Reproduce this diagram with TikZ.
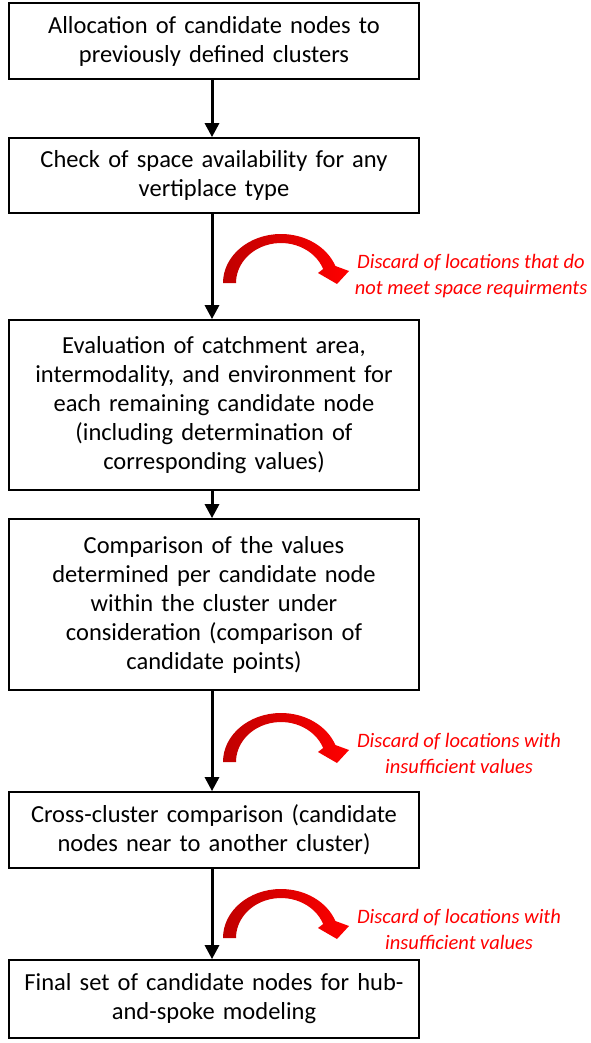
\documentclass[tikz,border=0pt]{standalone}
\usepackage{fontspec}
\setmainfont{Carlito}
\usetikzlibrary{arrows.meta}
\definecolor{dred}{RGB}{192,0,0}
\tikzset{
  stepbox/.style={draw=black, line width=1.7pt, minimum width=410pt, text width=400pt, align=center, inner sep=0pt,
    font=\fontsize{24.5}{29}\selectfont},
  flow/.style={line width=3pt, -{Triangle[width=14pt,length=14pt]}},
  discard/.style={text=red, align=center, font=\fontsize{20.5}{26}\selectfont\itshape, inner sep=0pt},
  curvearrow/.pic={
    \shade[left color=dred, right color=red, draw=none]
      (-58pt,0pt) arc[start angle=180, end angle=20.3, x radius=58pt, y radius=49pt]
      -- (68pt,12pt) -- (56pt,-1pt) -- (37pt,10pt) -- (42.15pt,14pt)
      arc[start angle=20.5, end angle=180, x radius=45pt, y radius=40pt] -- cycle;
  }
}
\begin{document}
\begin{tikzpicture}[x=1pt, y=-1pt]
\useasboundingbox (0,0) rectangle (590,1043);
\node[stepbox, minimum height=76pt] (b1) at (214,41) {Allocation of candidate nodes to\\previously defined clusters};
\node[stepbox, minimum height=75pt] (b2) at (214,175.5) {Check of space availability for any\\vertiplace type};
\node[stepbox, minimum height=170pt] (b3) at (214,405) {Evaluation of catchment area,\\intermodality, and environment for\\each remaining candidate node\\(including determination of\\corresponding values)};
\node[stepbox, minimum height=171pt] (b4) at (214,604.5) {Comparison of the values\\determined per candidate node\\within the cluster under\\consideration (comparison of\\candidate points)};
\node[stepbox, minimum height=76pt] (b5) at (214,830) {Cross-cluster comparison (candidate\\nodes near to another cluster)};
\node[stepbox, minimum height=78pt] (b6) at (214,999) {Final set of candidate nodes for hub-\\and-spoke modeling};

\draw[flow] ([xshift=-2pt]b1.south) -- ([xshift=-2pt]b2.north);
\draw[flow] ([xshift=-2pt]b2.south) -- ([xshift=-2pt]b3.north);
\draw[flow] ([xshift=-2pt]b3.south) -- ([xshift=-2pt]b4.north);
\draw[flow] ([xshift=-2pt]b4.south) -- ([xshift=-2pt]b5.north);
\draw[flow] ([xshift=-2pt]b5.south) -- ([xshift=-2pt]b6.north);

\pic at (281,283) {curvearrow};
\pic at (281,762) {curvearrow};
\pic at (281,938) {curvearrow};

\node[discard] (d1) at (471,276) {Discard of locations that do\\not meet space requirments};
\node[discard] (d2) at (459,753.5) {Discard of locations with\\insufficient values};
\node[discard] (d3) at (459,929) {Discard of locations with\\insufficient values};
\end{tikzpicture}
\end{document}
